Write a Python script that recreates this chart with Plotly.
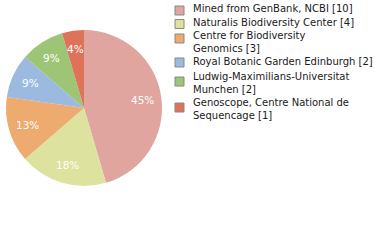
import math
import plotly.graph_objects as go

labels = [
    "Mined from GenBank, NCBI [10]",
    "Naturalis Biodiversity Center [4]",
    "Centre for Biodiversity<br>Genomics [3]",
    "Royal Botanic Garden Edinburgh [2]",
    "Ludwig-Maximilians-Universitat<br>Munchen [2]",
    "Genoscope, Centre National de<br>Sequencage [1]",
]
values = [10, 4, 3, 2, 2, 1]
colors = ["#e0a59e", "#dde29e", "#eeab6f", "#9cbae0", "#9dc575", "#df735a"]

total = sum(values)
pct_text = [f"{int(v * 100 // total)}%" for v in values]

W, H = 380, 240
CX, CY, R = 84, 108, 78  # pie centre / radius in pixels
dom = dict(x=[(CX - R) / W, (CX + R) / W], y=[1 - (CY + R) / H, 1 - (CY - R) / H])

fig = go.Figure(go.Pie(
    labels=labels, values=values, sort=False, direction="clockwise", rotation=0,
    marker=dict(colors=colors, line=dict(width=0)),
    textinfo="none", domain=dom, showlegend=False, hoverinfo="label+value",
))

annotations = []
# percentage labels at ~3/4 of the radius, at each slice's mid-angle
cum = 0
for v, t in zip(values, pct_text):
    mid = (cum + v / 2) / total * 2 * math.pi
    cum += v
    px = CX + 0.76 * R * math.sin(mid)
    py = CY - 0.76 * R * math.cos(mid)
    annotations.append(dict(
        text=t, xref="paper", yref="paper", x=px / W, y=1 - py / H,
        xanchor="center", yanchor="middle", showarrow=False,
        font=dict(family="DejaVu Sans", size=10.5, color="white"),
    ))

# legend drawn as swatches + text
sw_centers = [10.5, 24, 38.5, 62.5, 81.5, 107.5]
txt_centers = [9, 22.5, 42.25, 62, 82.75, 108.75]
shapes = []
for lab, col, sc, tc in zip(labels, colors, sw_centers, txt_centers):
    shapes.append(dict(
        type="rect", xref="paper", yref="paper",
        x0=175 / W, x1=184 / W, y0=1 - (sc + 4.5) / H, y1=1 - (sc - 4.5) / H,
        fillcolor=col, line=dict(color="#888888", width=1),
    ))
    annotations.append(dict(
        text=lab, xref="paper", yref="paper", x=191 / W, y=1 - tc / H,
        xanchor="left", yanchor="middle", align="left", showarrow=False,
        font=dict(family="DejaVu Sans", size=10, color="#1a1a1a"),
    ))

fig.update_layout(
    width=W, height=H,
    margin=dict(l=0, r=0, t=0, b=0, autoexpand=False),
    paper_bgcolor="white",
    showlegend=False,
    shapes=shapes,
    annotations=annotations,
)

fig.write_html("out.html")
